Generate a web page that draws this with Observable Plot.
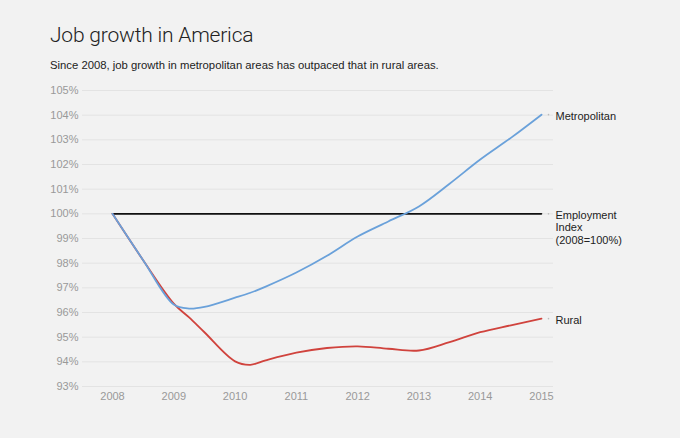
<!DOCTYPE html>
<html>
<head>
<meta charset="utf-8">
<script src="https://cdn.jsdelivr.net/npm/d3@7"></script>
<script src="https://cdn.jsdelivr.net/npm/@observablehq/plot@0.6"></script>
<style>
  html, body { margin: 0; padding: 0; background: #f2f2f2; }
  body { width: 680px; height: 438px; overflow: hidden; font-family: "Liberation Sans", Arial, sans-serif; }
  #title { position: absolute; left: 50px; top: 23px; font-family: Roboto, "Liberation Sans", sans-serif; font-weight: 300; font-size: 21px; color: #222; letter-spacing: -0.2px; }
  #subtitle { position: absolute; left: 50px; top: 59px; font-size: 11.3px; color: #222; }
  #chart { position: absolute; left: 0; top: 78px; }
</style>
</head>
<body>
<div id="title">Job growth in America</div>
<div id="subtitle">Since 2008, job growth in metropolitan areas has outpaced that in rural areas.</div>
<div id="chart"></div>
<script>
const dates = [2008, 2008.5, 2009, 2009.25, 2009.5, 2010, 2010.25, 2010.5, 2011, 2011.5, 2012, 2012.5, 2013, 2013.5, 2014, 2014.5, 2015];
const metropolitan = [100, 98.12, 96.32, 96.16, 96.23, 96.6, 96.8, 97.05, 97.62, 98.3, 99.08, 99.69, 100.3, 101.22, 102.2, 103.08, 104.02];
const rural = [100, 98.12, 96.36, 95.8, 95.2, 94.02, 93.88, 94.06, 94.37, 94.56, 94.63, 94.53, 94.46, 94.8, 95.2, 95.48, 95.75];
const tickYears = [2008, 2009, 2010, 2011, 2012, 2013, 2014, 2015];
const yTicks = [93, 94, 95, 96, 97, 98, 99, 100, 101, 102, 103, 104, 105];
const indexValue = 100;

const metroData = dates.map((d, i) => ({year: d, value: metropolitan[i]}));
const ruralData = dates.map((d, i) => ({year: d, value: rural[i]}));
const indexData = [tickYears[0], tickYears[tickYears.length - 1]].map(y => ({year: y, value: indexValue}));
const labels = [
  {year: 2015, value: metropolitan[metropolitan.length - 1], text: "Metropolitan"},
  {year: 2015, value: rural[rural.length - 1], text: "Rural"}
];

const plot = Plot.plot({
  width: 680,
  height: 340,
  marginTop: 12,
  marginBottom: 32,
  marginLeft: 112,
  marginRight: 139,
  style: {background: "transparent", fontFamily: "Liberation Sans, Arial, sans-serif"},
  x: {domain: [2008, 2015]},
  y: {domain: [93, 105]},
  marks: [
    Plot.ruleY(yTicks, {stroke: "#e3e3e3", strokeWidth: 1, insetLeft: -30, insetRight: -12}),
    Plot.axisY(yTicks, {tickSize: 0, tickPadding: 34, tickFormat: d => d + "%", fontSize: 11, fill: "#999", label: null}),
    Plot.axisX(tickYears, {tickSize: 0, tickPadding: 6, tickFormat: d => String(d), fontSize: 11, fill: "#999", label: null}),
    Plot.line(indexData, {x: "year", y: "value", stroke: "#111", strokeWidth: 1.6}),
    Plot.line(ruralData, {x: "year", y: "value", stroke: "#d0433d", strokeWidth: 1.8, curve: "catmull-rom"}),
    Plot.line(metroData, {x: "year", y: "value", stroke: "#6aa1da", strokeWidth: 1.8, curve: "catmull-rom"}),
    Plot.dot([...labels, {year: 2015, value: indexValue}], {x: "year", y: "value", dx: 7, r: 0.8, fill: "#bbb", stroke: null}),
    Plot.text(labels, {x: "year", y: "value", text: "text", dx: 14, dy: 2, textAnchor: "start", fontSize: 11, fill: "#222"}),
    Plot.text([{year: 2015, value: indexValue}], {x: "year", y: "value", text: () => "Employment\nIndex\n(2008=100%)", dx: 14, dy: -4, lineAnchor: "top", lineHeight: 1.15, textAnchor: "start", fontSize: 11, fill: "#222"})
  ]
});
document.getElementById("chart").appendChild(plot);
</script>
</body>
</html>
